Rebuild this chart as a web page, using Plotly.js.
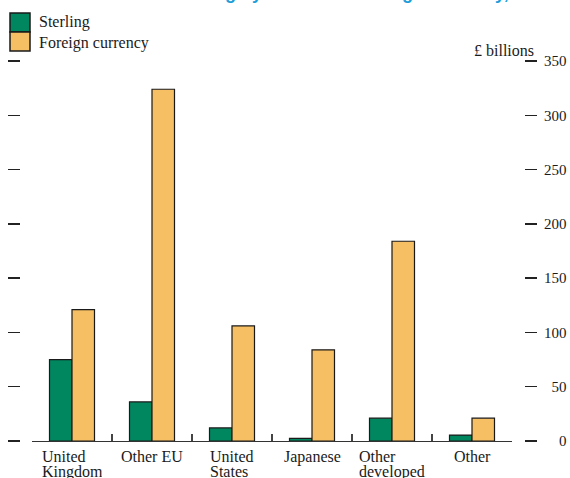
<!DOCTYPE html>
<html>
<head>
<meta charset="utf-8">
<script src="https://cdn.plot.ly/plotly-3.0.1.min.js"></script>
<style>html,body{margin:0;padding:0;background:#fff;}#chart{width:570px;height:478px;}</style>
</head>
<body>
<div id="chart"></div>
<script>
// ---- data ----
const categories = ["United Kingdom", "Other EU", "United States", "Japanese", "Other developed", "Other"];
const labelLine1 = ["United", "Other EU", "United", "Japanese", "Other", "Other"];
const labelLine2 = ["Kingdom", "", "States", "", "developed", ""];
const sterling = [75, 36, 12, 2.5, 21, 5.5];
const foreignCurrency = [121, 324, 106, 84, 184, 21];
const yTickValues = [0, 50, 100, 150, 200, 250, 300, 350];
const yTickLabels = ["0", "50", "100", "150", "200", "250", "300", "350"];
const seriesNames = ["Sterling", "Foreign currency"];
const unitLabel = "£ billions";
const titleText = "Bank lending by sector and foreign currency,";

// ---- styling helpers ----
const W = 570, H = 478;
const PLOT_TOP = 61, PLOT_BOTTOM = 441;
const px = x => x / W;
const py = y => (PLOT_BOTTOM - y) / (PLOT_BOTTOM - PLOT_TOP);
const GREEN = "#00875f", ORANGE = "#f6bf63", INK = "#1a1a1a";
const SERIF = "Liberation Serif, Times New Roman, serif";
const FS = "\u2007";
const padLabel = s => FS.repeat(3 - s.length) + s;
const blockWidths = [60, 0, 44, 0, 66, 0];

const traces = [
  {type: "bar", name: seriesNames[0], x: categories, y: sterling,
   marker: {color: GREEN, line: {color: INK, width: 1.2}}, hoverinfo: "y"},
  {type: "bar", name: seriesNames[1], x: categories, y: foreignCurrency,
   marker: {color: ORANGE, line: {color: INK, width: 1.2}}, hoverinfo: "y"},
  {type: "scatter", x: [], y: [], yaxis: "y2", showlegend: false, hoverinfo: "skip"}
];

const annotations = [];
categories.forEach((c, i) => {
  const w = blockWidths[i];
  const a1 = {x: c, xref: "x", yref: "paper", y: py(457), yanchor: "middle", xanchor: "center",
    text: labelLine1[i], showarrow: false, font: {family: SERIF, size: 16, color: INK}};
  if (w) { a1.width = w; a1.align = "left"; }
  annotations.push(a1);
  if (labelLine2[i]) {
    annotations.push({x: c, xref: "x", yref: "paper", y: py(472), yanchor: "middle", xanchor: "center",
      text: labelLine2[i], width: w, align: "left", showarrow: false,
      font: {family: SERIF, size: 16, color: INK}});
  }
});
annotations.push({xref: "paper", yref: "paper", x: px(536), y: py(50), xanchor: "right", yanchor: "middle",
  text: unitLabel, showarrow: false, font: {family: SERIF, size: 16, color: INK}});
annotations.push({xref: "paper", yref: "paper", x: px(37), y: py(22), xanchor: "left", yanchor: "middle",
  text: seriesNames[0], showarrow: false, font: {family: SERIF, size: 16, color: INK}});
annotations.push({xref: "paper", yref: "paper", x: px(37), y: py(43), xanchor: "left", yanchor: "middle",
  text: seriesNames[1], showarrow: false, font: {family: SERIF, size: 16, color: INK}});
annotations.push({xref: "paper", yref: "paper", x: px(121), y: py(5), xanchor: "left", yanchor: "bottom",
  text: "<b>" + titleText + "</b>", showarrow: false,
  font: {family: "Liberation Sans, Arial, sans-serif", size: 18, color: "#1b9dd9"}});

const shapes = [
  {type: "rect", xref: "paper", yref: "paper", x0: px(10), x1: px(30), y0: py(13), y1: py(32),
   fillcolor: GREEN, line: {color: INK, width: 1.5}},
  {type: "rect", xref: "paper", yref: "paper", x0: px(10), x1: px(30), y0: py(32), y1: py(51),
   fillcolor: ORANGE, line: {color: INK, width: 1.5}}
];

const layout = {
  width: W, height: H,
  margin: {l: 0, r: 0, t: PLOT_TOP, b: H - PLOT_BOTTOM, pad: 0},
  paper_bgcolor: "#fff", plot_bgcolor: "rgba(0,0,0,0)",
  showlegend: false,
  barmode: "group", bargap: 0.4375, bargroupgap: 0,
  font: {family: SERIF, size: 16, color: INK},
  xaxis: {domain: [px(32), px(512)], type: "category", range: [-0.5, 5.5],
    showline: true, linecolor: "#333", linewidth: 1.2,
    ticks: "inside", tickson: "boundaries", ticklen: 7, tickwidth: 1.5, tickcolor: "#444",
    showticklabels: false, showgrid: false, zeroline: false, fixedrange: true},
  yaxis: {range: [0, 350], side: "right", anchor: "free", position: px(524),
    tickmode: "array", tickvals: yTickValues, ticktext: yTickLabels.map(padLabel),
    ticks: "outside", ticklen: 12, tickwidth: 1.5, tickcolor: "#222",
    ticklabelstandoff: 4,
    tickfont: {family: SERIF, size: 15, color: INK},
    showgrid: false, zeroline: false, showline: false, fixedrange: true},
  yaxis2: {range: [0, 350], overlaying: "y", side: "left", anchor: "free", position: px(20),
    tickmode: "array", tickvals: yTickValues, showticklabels: false,
    ticks: "outside", ticklen: 12, tickwidth: 1.5, tickcolor: "#222",
    showgrid: false, zeroline: false, showline: false, fixedrange: true},
  annotations: annotations,
  shapes: shapes
};

Plotly.newPlot("chart", traces, layout, {displayModeBar: false, staticPlot: true});
</script>
</body>
</html>
